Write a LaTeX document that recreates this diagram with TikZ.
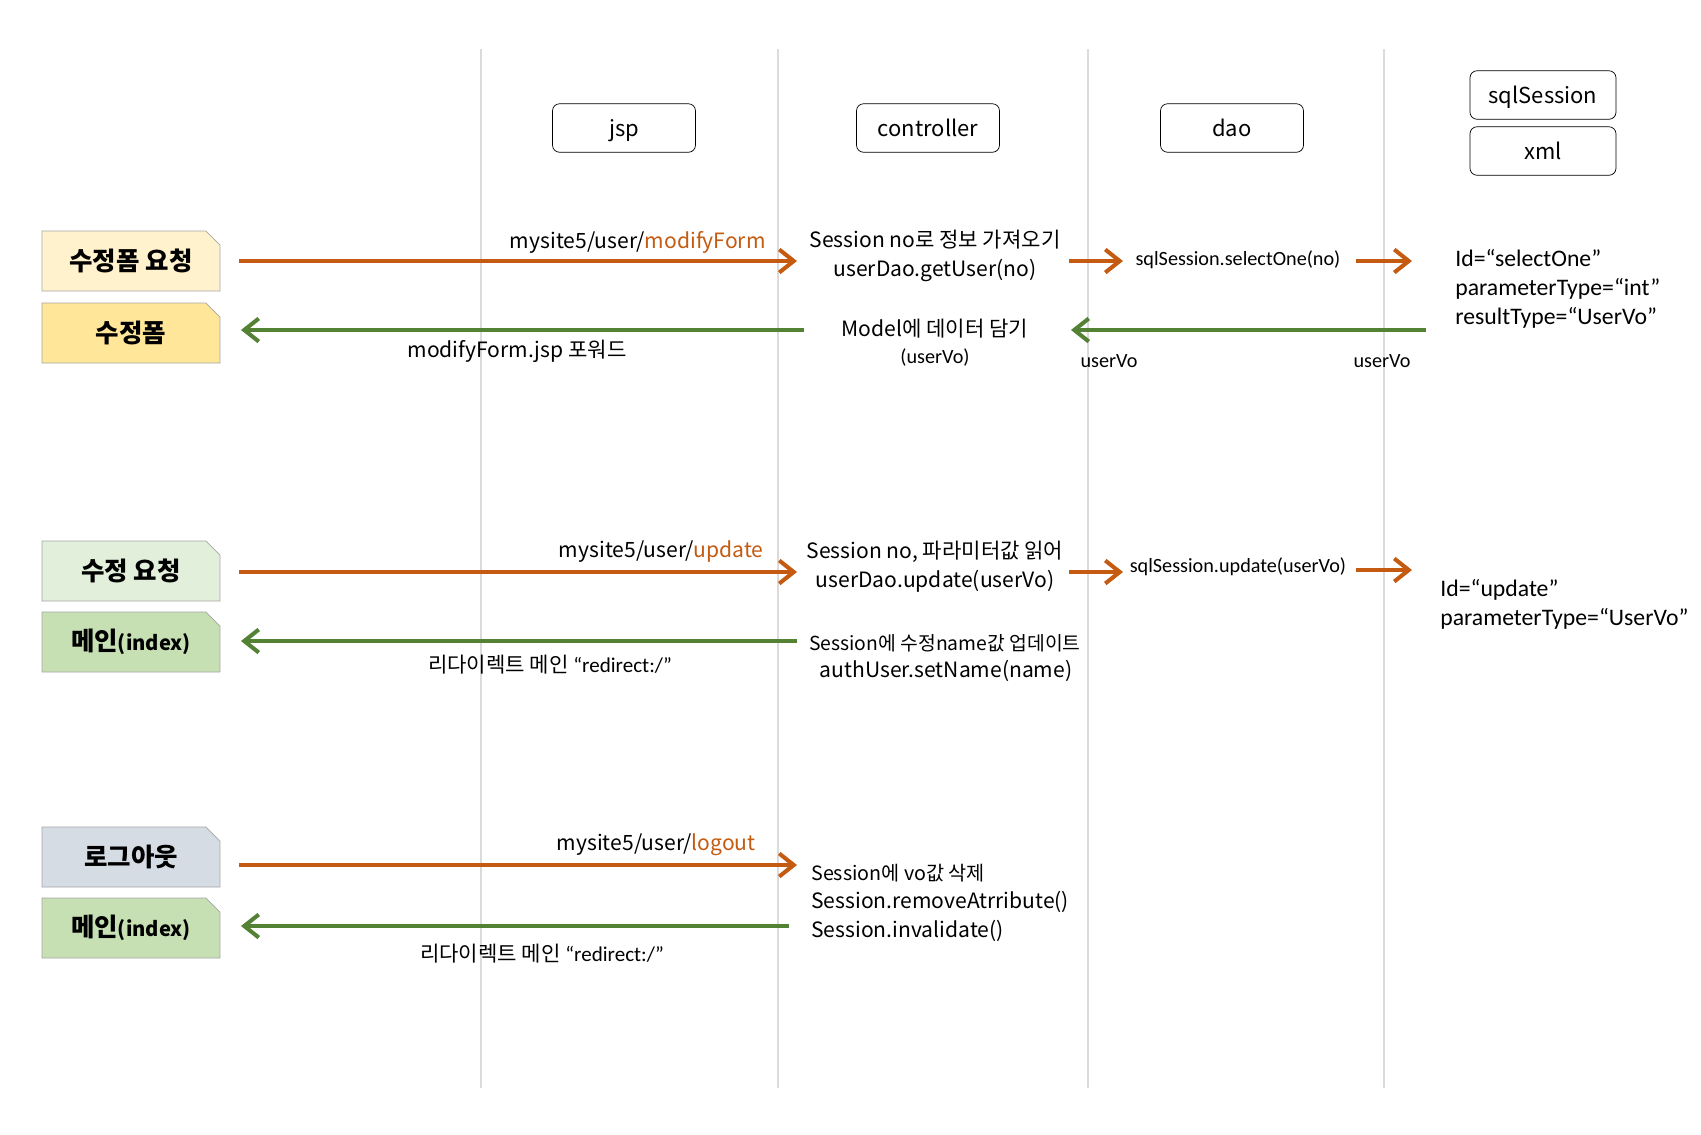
\documentclass[tikz,border=0pt]{standalone}
\usepackage{fontspec}
\setmainfont{Noto Sans CJK KR}
\newfontfamily\calfont{Carlito}
\usetikzlibrary{positioning, arrows.meta, shapes.misc}
\definecolor{reqorange}{HTML}{C55A11}
\definecolor{resgreen}{HTML}{548235}
\definecolor{tabyellow}{HTML}{FFF2CC}
\definecolor{tabgold}{HTML}{FFE699}
\definecolor{tabmint}{HTML}{E2EFDA}
\definecolor{tabgreen}{HTML}{C6E0B4}
\definecolor{tabslate}{HTML}{D6DCE4}

\begin{document}
\begin{tikzpicture}[
    x=0.02cm, y=-0.02cm,
    lane/.style={draw=black!14, line width=0.6pt},
    head/.style={draw, rounded corners=4pt, minimum width=2.86cm, minimum height=0.97cm, text height=11pt, text depth=1.5pt, font=\fontsize{12.5}{15}\selectfont, inner sep=0pt},
    tab/.style={chamfered rectangle, chamfered rectangle corners=north east, chamfered rectangle xsep=4pt, chamfered rectangle ysep=4pt, draw=black!35, minimum width=3.56cm, minimum height=1.2cm, font=\fontsize{14.5}{16}\selectfont\bfseries, inner sep=0pt},
    req/.style={-{Straight Barb[length=2.9mm, width=4.6mm]}, draw=reqorange, line width=2.3pt},
    res/.style={req, draw=resgreen},
    txt/.style={font=\fontsize{12}{16.5}\selectfont, inner sep=0pt, align=center},
    small/.style={font=\calfont\fontsize{11.5}{14}\selectfont, inner sep=0pt},
    xmltxt/.style={font=\calfont\fontsize{13.5}{16.5}\selectfont, inner sep=0pt, align=left},
]
\useasboundingbox[fill=white] (0,0) rectangle (1701,1134);

% lifelines
\foreach \lx in {481,778,1088,1384}
    \draw[lane] (\lx,49) -- (\lx,1088);

% headers
\node[head] (jsp) at (624,128) {jsp};
\node[head] (ctrl) at (928,128) {controller};
\node[head] (dao) at (1232,128) {dao};
\node[head, minimum width=2.92cm] (sqls) at (1543,95) {sqlSession};
\node[head, minimum width=2.92cm] (xml) at (1543,151) {xml};

% left tabs
\node[tab, fill=tabyellow] (modreq) at (131,261) {수정폼 요청};
\node[tab, fill=tabgold] (modform) at (131,333) {수정폼};
\node[tab, fill=tabmint] (updreq) at (131,571) {수정 요청};
\node[tab, fill=tabgreen] (main1) at (131,642) {메인{\fontsize{11.5}{14}\selectfont(index)}};
\node[tab, fill=tabslate] (logout) at (131,857) {로그아웃};
\node[tab, fill=tabgreen] (main2) at (131,928) {메인{\fontsize{11.5}{14}\selectfont(index)}};

% --- modify form ---
\coordinate (m1a) at (239,261);
\coordinate (m1b) at (797,261);
\coordinate (m1c) at (1069,261);
\coordinate (m1d) at (1123,261);
\coordinate (m1e) at (1356,261);
\coordinate (m1f) at (1412,261);
\coordinate (m1g) at (1426,330);
\coordinate (m1h) at (1071,330);
\coordinate (m1i) at (804,330);
\coordinate (m1j) at (241,330);

\draw[req] (m1a) -- (m1b);
\draw[req] (m1c) -- (m1d);
\draw[req] (m1e) -- (m1f);
\draw[res] (m1g) -- (m1h);
\draw[res] (m1i) -- (m1j);

\node[txt, anchor=east] (url1) at (766,242) {mysite5/user/\textcolor{reqorange}{modifyForm}};
\node[txt] (ctl1) at (935,256) {Session no로 정보 가져오기\\userDao.getUser(no)};
\node[small] (sel1) at (1238,260) {sqlSession.selectOne(no)};
\node[xmltxt, anchor=west] (map1) at (1455,289) {Id=“selectOne”\\parameterType=“int”\\resultType=“UserVo”};
\node[txt] (mdl1) at (935,329) {Model에 데이터 담기};
\node[small] (vo1) at (935,357) {(userVo)};
\node[small] (vo2) at (1109,361) {userVo};
\node[small] (vo3) at (1382,361) {userVo};
\node[txt] (fwd1) at (517,351) {modifyForm.jsp 포워드};

% --- update ---
\coordinate (u1a) at (239,572);
\coordinate (u1b) at (797,572);
\coordinate (u1c) at (1069,572);
\coordinate (u1d) at (1123,572);
\coordinate (u1e) at (1356,570);
\coordinate (u1f) at (1412,570);
\coordinate (u1g) at (797,641);
\coordinate (u1h) at (241,641);

\draw[req] (u1a) -- (u1b);
\draw[req] (u1c) -- (u1d);
\draw[req] (u1e) -- (u1f);
\draw[res] (u1g) -- (u1h);

\node[txt, anchor=east] (url2) at (764,552) {mysite5/user/\textcolor{reqorange}{update}};
\node[txt] (ctl2) at (935,567) {Session no, 파라미터값 읽어\\userDao.update(userVo)};
\node[small] (upd2) at (1238,567) {sqlSession.update(userVo)};
\node[xmltxt, anchor=west] (map2) at (1440,604) {Id=“update”\\parameterType=“UserVo”};
\node[txt, font=\fontsize{11}{14}\selectfont] (ses2) at (945,643) {Session에 수정name값 업데이트};
\node[txt] (set2) at (946,671) {authUser.setName(name)};
\node[txt] (red2) at (550,665) {리다이렉트 메인 {\calfont “redirect:/”}};

% --- logout ---
\coordinate (l1a) at (239,865);
\coordinate (l1b) at (797,865);
\coordinate (l1c) at (789,926);
\coordinate (l1d) at (241,926);

\draw[req] (l1a) -- (l1b);
\draw[res] (l1c) -- (l1d);

\node[txt, anchor=east] (url3) at (756,845) {mysite5/user/\textcolor{reqorange}{logout}};
\node[txt, anchor=west, align=left, font=\fontsize{11.2}{14}\selectfont] (ses3) at (811,873) {Session에 vo값 삭제};
\node[txt, anchor=west, align=left] (inv3) at (811,916) {Session.removeAtrribute()\\Session.invalidate()};
\node[txt] (red3) at (542,954) {리다이렉트 메인 {\calfont “redirect:/”}};

\end{tikzpicture}
\end{document}
